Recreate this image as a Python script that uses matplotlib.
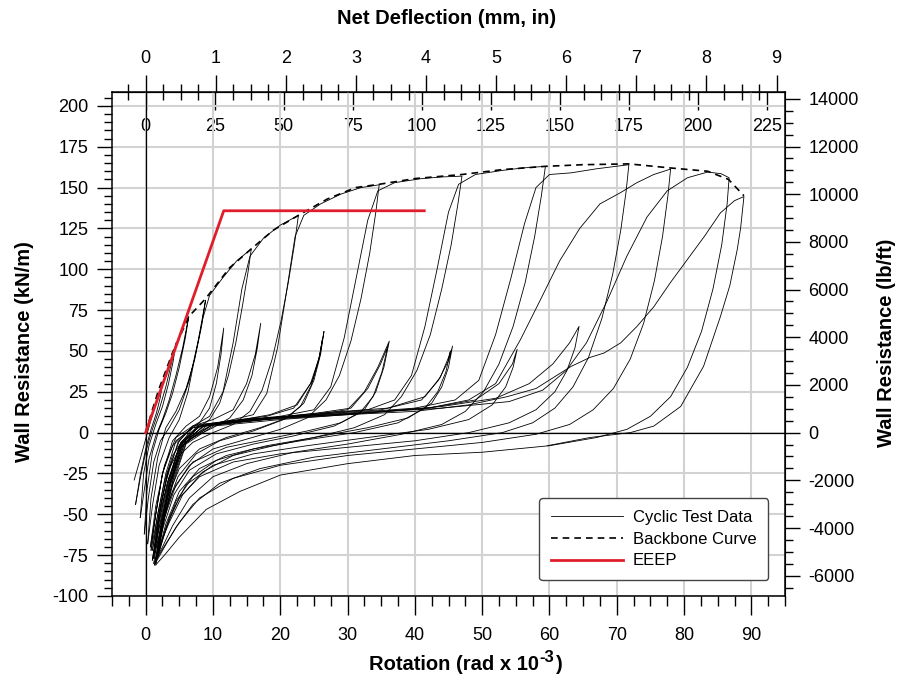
import matplotlib as mpl
import matplotlib.pyplot as plt
from matplotlib.ticker import MultipleLocator, FixedLocator

# ---- data (rotation in rad x 1e-3, resistance in kN/m) ----
backbone_rot = [0, 1, 2, 3, 4, 5, 6.4, 8.9, 12.5, 15.7, 19, 22.7, 27, 31.2, 34.7, 40, 47,
                53, 59.4, 65, 71.8, 78, 83.5, 86.6, 88.9]
backbone_kn = [0, 14, 27, 38, 49, 58, 71, 82, 101, 112.5, 124, 133, 143, 150, 152, 155.5,
               158, 161, 163, 164, 164.5, 162, 160, 155, 145]

eeep_rot = [0, 11.6, 41.4]
eeep_kn = [0, 135.8, 135.8]

# hysteresis cycles: (rotation, resistance) pairs in test order
c01 = [(-1.7, -29), (-0.8, -16), (0.0, -4), (0.8, 8), (1.6, 19), (2.5, 30), (2.2, 22), (1.6, 12),
       (0.8, 2), (0.0, -10), (-0.8, -26), (-1.5, -44)]
c02 = [(-1.5, -44), (-0.8, -28), (0.0, -12), (1.0, 2), (2.0, 14), (3.0, 28), (3.8, 42), (4.5, 55),
       (4.1, 44), (3.4, 30), (2.5, 16), (1.5, 5), (0.5, -8), (-0.3, -25), (-0.8, -52)]
c03 = [(-0.8, -52), (-0.2, -35), (0.5, -16), (1.5, -2), (2.5, 8), (3.5, 20), (4.5, 35), (5.5, 52),
       (6.4, 71), (5.9, 58), (5.0, 40), (4.0, 24), (3.0, 12), (2.0, 2), (1.0, -12), (0.2, -35),
       (-0.2, -62)]
c04 = [(-0.2, -62), (0.4, -40), (1.2, -18), (2.2, -5), (3.5, 3), (5.0, 14), (6.5, 32), (7.8, 56),
       (8.9, 81), (8.3, 65), (7.3, 45), (6.0, 27), (4.5, 13), (3.0, 3), (1.8, -15), (0.8, -40),
       (0.3, -68)]
c05 = [(0.3, -68), (1.0, -45), (2.0, -20), (3.5, -3), (5.0, 8), (6.3, 25), (7.5, 50), (8.5, 70),
       (9.5, 84), (11.5, 95), (13.5, 105), (15.7, 112.5), (15.2, 98), (14.4, 78), (13.4, 55),
       (12.3, 35), (11.0, 18), (9.5, 8), (7.5, 2), (5.5, -5), (4.0, -14), (2.8, -30), (1.8, -50),
       (0.8, -72)]
c06 = [(0.8, -72), (1.5, -50), (2.5, -25), (4.0, -5), (6.0, 4), (8.0, 10), (9.5, 22), (10.7, 40),
       (11.6, 64), (11.2, 48), (10.5, 30), (9.5, 15), (8.0, 6), (6.0, 0), (4.0, -8), (2.5, -25),
       (1.5, -50), (0.7, -70)]
c07 = [(0.7, -70), (1.5, -45), (2.8, -20), (4.5, -3), (7.0, 4), (9.5, 10), (11.5, 25), (13.0, 55),
       (14.3, 88), (15.5, 108), (17.5, 119), (20.0, 127), (22.7, 133), (22.1, 115), (21.2, 92),
       (20.1, 68), (18.8, 45), (17.3, 26), (15.5, 13), (13.0, 5), (10.0, 0), (7.0, -6),
       (5.0, -14), (3.5, -27), (2.2, -48), (1.2, -74)]
c08 = [(1.2, -74), (2.0, -50), (3.2, -25), (5.0, -5), (7.0, 4), (10.0, 8), (13.0, 14), (15.0, 30),
       (16.3, 48), (17.1, 67), (16.6, 52), (15.8, 35), (14.5, 20), (12.5, 9), (10.0, 3), (7.0, -3),
       (5.0, -10), (3.5, -22), (2.2, -45), (1.0, -72)]
c09 = [(1.0, -72), (1.8, -50), (3.0, -25), (4.5, -5), (7.0, 3), (12.0, 7), (16.0, 11), (18.0, 24),
       (19.6, 52), (21.0, 88), (22.2, 120), (23.5, 133), (26.0, 140), (29.0, 146), (32.0, 150),
       (34.7, 151.7), (34.2, 135), (33.3, 110), (32.0, 82), (30.5, 56), (28.8, 35), (26.8, 20),
       (24.0, 9), (20.0, 2), (15.0, -4), (10.0, -10), (6.5, -20), (4.0, -36), (2.4, -56),
       (1.2, -77)]
c10 = [(1.2, -77), (2.0, -55), (3.3, -30), (5.0, -8), (7.0, 3), (12.0, 7), (18.0, 10), (22.0, 15),
       (24.5, 30), (25.8, 46), (26.5, 62), (26.0, 48), (25.0, 32), (23.5, 18), (21.0, 9), (17.0, 3),
       (12.0, -3), (8.0, -10), (5.0, -22), (3.0, -42), (1.8, -62), (1.0, -78)]
c10b = [(1.0, -78), (1.9, -56), (3.2, -31), (5.0, -9), (7.5, 3), (13.0, 7), (18.5, 11),
        (22.5, 17), (24.8, 32), (25.9, 48), (26.3, 58), (25.7, 44), (24.6, 29), (23.0, 16),
        (20.5, 8), (16.0, 1), (11.0, -5), (7.5, -13), (4.8, -27), (3.0, -47), (1.6, -70)]
c11 = [(1.0, -78), (1.8, -55), (3.0, -30), (4.8, -6), (7.0, 4), (12.0, 7), (20.0, 10), (25.0, 14),
       (27.5, 28), (29.5, 58), (31.3, 95), (33.0, 130), (34.5, 148), (37.0, 153), (41.0, 155.5),
       (44.0, 156.5), (47.0, 157), (46.4, 140), (45.4, 115), (44.0, 88), (42.3, 60), (40.3, 38),
       (38.0, 22), (35.5, 11), (31.0, 3), (25.0, -3), (19.0, -8), (13.0, -14), (8.5, -24),
       (5.5, -38), (3.5, -55), (2.2, -68), (1.5, -80)]
c12 = [(1.5, -80), (2.3, -58), (3.5, -32), (5.2, -8), (8.0, 4), (15.0, 8), (25.0, 11), (30.0, 14),
       (32.5, 25), (34.5, 40), (36.2, 56), (35.4, 40), (34.2, 25), (32.5, 14), (29.0, 6), (24.0, 1),
       (18.0, -4), (12.0, -9), (7.0, -18), (4.5, -32), (2.8, -52), (1.5, -78)]
c12b = [(1.5, -78), (2.4, -57), (3.6, -31), (5.4, -8), (8.5, 4), (16.0, 8), (25.5, 12),
        (30.5, 15), (33.0, 27), (34.9, 42), (36.0, 53), (35.1, 37), (33.8, 22), (31.8, 12),
        (28.0, 4), (22.0, -2), (16.0, -7), (10.5, -13), (6.5, -23), (4.2, -38), (2.6, -58),
        (1.4, -79)]
c13 = [(1.5, -78), (2.3, -55), (3.5, -30), (5.2, -6), (8.0, 5), (15.0, 8), (25.0, 11), (33.0, 14),
       (37.0, 20), (39.5, 35), (41.5, 65), (43.3, 100), (45.0, 135), (46.5, 152), (49.0, 158),
       (53.0, 160.5), (56.0, 162), (59.4, 163), (58.8, 145), (57.8, 120), (56.4, 92), (54.6, 65),
       (52.5, 42), (50.2, 25), (47.5, 13), (44.0, 5), (38.0, -1), (30.0, -7), (22.0, -12),
       (15.0, -19), (10.0, -27), (6.5, -40), (4.0, -57), (2.5, -70), (1.2, -80)]
c14 = [(1.2, -80), (2.0, -58), (3.3, -32), (5.0, -8), (8.0, 4), (15.0, 8), (25.0, 11), (35.0, 14),
       (41.0, 20), (43.5, 32), (45.0, 44), (45.6, 53), (45.0, 40), (44.0, 28), (42.5, 18), (39.0, 9),
       (33.0, 3), (25.0, -3), (18.0, -8), (12.0, -14), (8.0, -22), (5.0, -36), (3.0, -56),
       (1.5, -79)]
c14b = [(1.5, -79), (2.2, -59), (3.4, -33), (5.2, -9), (8.5, 4), (16.0, 8), (26.0, 12),
        (36.0, 15), (41.5, 22), (43.8, 34), (45.0, 46), (45.3, 50), (44.6, 37), (43.4, 25),
        (41.5, 15), (37.5, 6), (31.0, 0), (23.0, -5), (16.0, -10), (10.5, -17), (7.0, -27),
        (4.5, -42), (2.8, -62), (1.4, -80)]
c15 = [(1.5, -79), (2.5, -55), (3.8, -30), (5.5, -6), (9.0, 5), (18.0, 9), (30.0, 12), (40.0, 15),
       (46.0, 20), (49.5, 32), (52.0, 60), (54.3, 95), (56.3, 128), (58.0, 150), (60.0, 158),
       (63.2, 159), (67.0, 161.5), (71.8, 164), (71.4, 148), (70.6, 124), (69.4, 97), (67.8, 70),
       (65.8, 46), (63.5, 28), (60.8, 15), (57.5, 6), (53.0, 0), (45.0, -5), (35.0, -10),
       (25.0, -15), (17.0, -22), (11.0, -31), (7.0, -44), (4.5, -58), (2.8, -70), (1.3, -81)]
c16 = [(1.3, -81), (2.3, -58), (3.6, -32), (5.5, -8), (9.0, 4), (18.0, 8), (30.0, 11), (42.0, 15),
       (49.0, 20), (52.5, 30), (54.5, 42), (55.2, 51), (54.6, 40), (53.5, 28), (51.5, 17), (48.0, 8),
       (42.0, 2), (33.0, -3), (24.0, -8), (16.0, -13), (10.0, -20), (6.0, -32), (3.5, -52),
       (1.8, -76)]
c17 = [(1.8, -76), (2.8, -52), (4.2, -26), (6.0, -4), (10.0, 5), (20.0, 9), (32.0, 12), (42.0, 15),
       (48.0, 20), (52.0, 30), (55.7, 57), (58.5, 80), (61.5, 105), (64.5, 125), (67.5, 140),
       (70.6, 147), (73.0, 153), (75.5, 158), (78.0, 161.3), (77.6, 145), (76.8, 120), (75.6, 93),
       (74.0, 67), (72.0, 45), (69.5, 27), (66.5, 14), (63.0, 5), (58.0, -1), (50.0, -6),
       (40.0, -10), (30.0, -14), (20.0, -20), (13.0, -28), (8.0, -40), (5.0, -55), (3.0, -68),
       (1.5, -78)]
c18 = [(1.5, -78), (2.6, -55), (4.0, -30), (6.0, -6), (10.0, 5), (20.0, 9), (32.0, 12), (44.0, 15),
       (54.0, 19), (59.0, 26), (62.5, 38), (65.5, 55), (68.5, 80), (71.5, 108), (74.5, 132),
       (77.5, 148), (80.5, 156), (83.5, 159.5), (85.5, 158.5), (86.7, 156), (86.4, 140),
       (85.6, 115), (84.3, 88), (82.6, 62), (80.5, 40), (78.0, 22), (75.0, 10), (71.5, 2),
       (67.0, -3), (60.0, -8), (50.0, -12), (40.0, -14), (30.0, -19), (20.0, -26), (14.0, -36),
       (9.0, -47), (5.0, -64), (3.0, -74), (1.5, -81)]
c19 = [(1.5, -81), (2.5, -55), (3.8, -30), (5.8, -6), (10.0, 5), (20.0, 9), (32.0, 12), (44.0, 16),
       (52.0, 21), (57.0, 30), (60.5, 42), (63.0, 55), (64.4, 65), (63.8, 52), (62.6, 38),
       (60.8, 25), (58.0, 14), (54.0, 6), (48.0, 0), (40.0, -5), (30.0, -9), (20.0, -13),
       (13.0, -18), (8.0, -27), (5.0, -40), (3.0, -58), (1.6, -78)]
c20 = [(1.6, -78), (2.5, -58), (4.0, -32), (6.0, -7), (10.0, 4), (20.0, 8), (30.0, 11), (40.0, 13),
       (48.0, 17), (53.7, 22), (58.0, 27), (63.2, 40.5), (66.0, 46), (68.1, 48.7), (70.6, 55),
       (73.0, 65), (75.5, 77), (78.0, 92), (80.5, 106), (83.0, 120), (85.4, 134.5), (87.5, 142),
       (88.9, 144.5), (88.4, 125), (87.9, 112), (86.8, 90), (85.4, 71), (82.9, 40.6), (79.5, 16),
       (75.5, 4), (72.0, 0), (66.0, -3), (59.7, -8)]

cycles = [c01, c02, c03, c04, c05, c06, c07, c08, c09, c10, c10b,
          c11, c12, c12b, c13, c14, c14b, c15, c16, c17, c18, c19, c20]

rot_ticks = list(range(0, 91, 10))
kn_ticks = list(range(-100, 201, 25))
lbf_ticks = list(range(-6000, 14001, 2000))
mm_ticks = list(range(0, 226, 25))
in_ticks = list(range(0, 10))

WALL_HEIGHT_MM = 2438.4   # 8 ft wall
KN_TO_LBF = 68.52


def rot_to_mm(r):
    return r * WALL_HEIGHT_MM / 1000.0


def mm_to_rot(m):
    return m * 1000.0 / WALL_HEIGHT_MM


def rot_to_in(r):
    return r * 96.0 / 1000.0


def in_to_rot(i):
    return i * 1000.0 / 96.0


def kn_to_lbf(k):
    return k * KN_TO_LBF


def lbf_to_kn(p):
    return p / KN_TO_LBF


def main():
    mpl.rcParams['font.family'] = ['Liberation Sans', 'DejaVu Sans']
    mpl.rcParams['axes.unicode_minus'] = False

    fig = plt.figure(figsize=(9, 6.83), dpi=100)
    ax = fig.add_axes([112 / 900, 1 - 596 / 683, 673 / 900, 504 / 683])

    for i, cyc in enumerate(cycles):
        xs = [p[0] for p in cyc]
        ys = [p[1] for p in cyc]
        ax.plot(xs, ys, color='black', lw=0.6, label='Cyclic Test Data' if i == 0 else None,
                zorder=3)

    ax.plot(backbone_rot, backbone_kn, color='black', lw=1.2, ls=(0, (4, 3)),
            label='Backbone Curve', zorder=4)
    ax.plot(eeep_rot, eeep_kn, color='#e01e2b', lw=2.0, label='EEEP', zorder=5)

    ax.set_xlim(-5, 95)
    ax.set_ylim(-100, 208.5)

    ax.grid(True, which='major', color='#d2d2d2', lw=1.5, zorder=0)
    ax.axhline(0, color='black', lw=0.9, zorder=2)
    ax.axvline(0, color='black', lw=0.9, zorder=2)

    ax.xaxis.set_major_locator(FixedLocator(rot_ticks))
    ax.xaxis.set_minor_locator(MultipleLocator(2.5))
    ax.yaxis.set_major_locator(FixedLocator(kn_ticks))
    ax.yaxis.set_minor_locator(MultipleLocator(5))
    ax.tick_params(axis='x', which='major', direction='out', length=14, width=1, pad=8,
                   labelsize=13)
    ax.tick_params(axis='x', which='minor', direction='out', length=7, width=1)
    ax.tick_params(axis='y', which='major', direction='out', length=11, width=1, pad=6,
                   labelsize=13)
    ax.tick_params(axis='y', which='minor', direction='out', length=6, width=1)
    for s in ax.spines.values():
        s.set_linewidth(1.1)

    # right axis in lb/ft
    ax_r = ax.secondary_yaxis('right', functions=(kn_to_lbf, lbf_to_kn))
    ax_r.yaxis.set_major_locator(FixedLocator(lbf_ticks))
    ax_r.yaxis.set_minor_locator(MultipleLocator(500))
    ax_r.tick_params(which='major', direction='out', length=11, width=1, pad=6, labelsize=13)
    ax_r.tick_params(which='minor', direction='out', length=6, width=1)

    # top axes: net deflection in mm (inside) and in inches (outside)
    ax_mm = ax.secondary_xaxis('top', functions=(rot_to_mm, mm_to_rot))
    ax_mm.xaxis.set_major_locator(FixedLocator(mm_ticks))
    ax_mm.tick_params(which='major', direction='in', length=13, width=1, pad=-31, labelsize=13)

    ax_in = ax.secondary_xaxis('top', functions=(rot_to_in, in_to_rot))
    ax_in.xaxis.set_major_locator(FixedLocator(in_ticks))
    ax_in.xaxis.set_minor_locator(MultipleLocator(0.25))
    ax_in.tick_params(which='major', direction='out', length=12, width=1, pad=6, labelsize=13)
    ax_in.tick_params(which='minor', direction='inout', length=12, width=1)

    fig.text(447 / 900, 1 - 18 / 683, 'Net Deflection (mm, in)', ha='center', va='center',
             fontsize=14.5, fontweight='bold')
    # bottom title with a raised "-3" drawn as plain text so the hyphen matches
    t = fig.text(454 / 900, 1 - 664 / 683, 'Rotation (rad x 10', ha='center', va='center',
                 fontsize=14.5, fontweight='bold')
    fig.canvas.draw()
    bb = t.get_window_extent()
    x_end = bb.x1 / fig.bbox.width
    fig.text(x_end, 1 - 657 / 683, '-3', ha='left', va='center',
             fontsize=12, fontweight='bold')
    fig.text(x_end + 0.0185, 1 - 664 / 683, ')', ha='left', va='center',
             fontsize=14.5, fontweight='bold')
    fig.text(25 / 900, 1 - 352 / 683, 'Wall Resistance (kN/m)', ha='center', va='center',
             rotation=90, fontsize=14.5, fontweight='bold')
    fig.text(886 / 900, 1 - 343 / 683, 'Wall Resistance (lb/ft)', ha='center', va='center',
             rotation=90, fontsize=14.5, fontweight='bold')

    leg = ax.legend(loc='lower right', bbox_to_anchor=(768 / 900, 1 - 580 / 683),
                    bbox_transform=fig.transFigure, borderaxespad=0, fontsize=12,
                    handlelength=4.3, handletextpad=0.6, labelspacing=0.4, borderpad=0.7,
                    fancybox=True, framealpha=1, edgecolor='#444444')
    leg.get_frame().set_linewidth(1.0)

    plt.savefig('out.png', dpi=100)


if __name__ == '__main__':
    main()
